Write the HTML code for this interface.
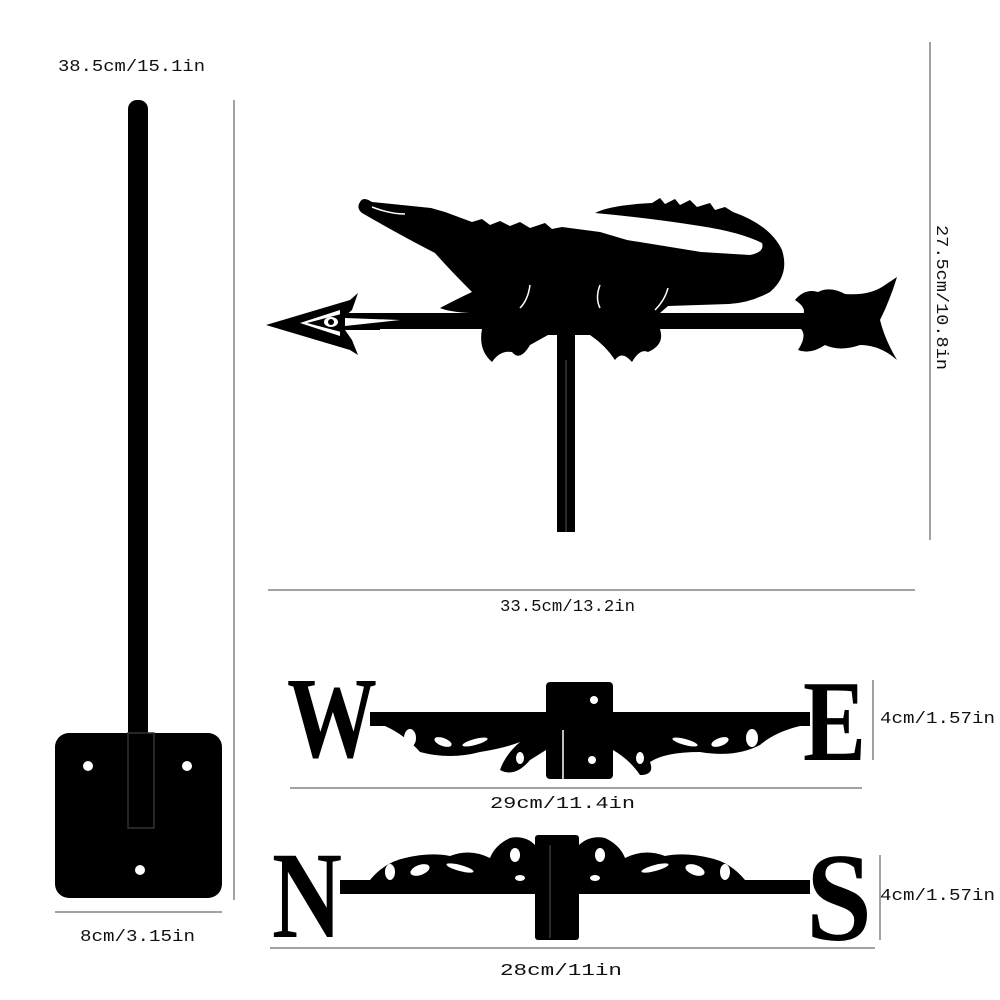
<!DOCTYPE html>
<html><head><meta charset="utf-8"><style>
html,body{margin:0;padding:0;background:#fff;}
svg{display:block;}
text{font-family:"Liberation Mono","DejaVu Sans Mono",monospace;font-size:17px;fill:#111;}
.L{font-family:"Liberation Serif",serif;font-weight:bold;fill:#000;}
</style></head><body>
<svg width="1000" height="1000" viewBox="0 0 1000 1000" xmlns="http://www.w3.org/2000/svg">
<!-- pole stand -->
<text x="58" y="71" textLength="147" lengthAdjust="spacingAndGlyphs">38.5cm/15.1in</text>
<rect x="128" y="100" width="20" height="730" rx="9" fill="#000"/>
<rect x="55" y="733" width="167" height="165" rx="14" fill="#000"/>
<rect x="128" y="733" width="26" height="95" fill="none" stroke="#333" stroke-width="1.5"/>
<circle cx="88" cy="766" r="5" fill="#fff"/>
<circle cx="187" cy="766" r="5" fill="#fff"/>
<circle cx="140" cy="870" r="5" fill="#fff"/>
<line x1="234" y1="100" x2="234" y2="900" stroke="#444" stroke-width="1"/>
<line x1="55" y1="912" x2="222" y2="912" stroke="#444" stroke-width="1"/>
<text x="80" y="941" textLength="115" lengthAdjust="spacingAndGlyphs">8cm/3.15in</text>

<!-- crocodile vane -->
<line x1="930" y1="42" x2="930" y2="540" stroke="#444" stroke-width="1"/>
<text x="0" y="0" transform="translate(937,225) rotate(90)" textLength="145" lengthAdjust="spacingAndGlyphs">27.5cm/10.8in</text>
<rect x="557" y="330" width="18" height="202" fill="#000"/>
<line x1="566" y1="360" x2="566" y2="532" stroke="#555" stroke-width="1"/>
<rect x="330" y="313" width="480" height="16" fill="#000"/>
<path d="M266 325 L350 300 L358 293 L352 310 L345 316 L380 316 L380 330 L345 330 L352 340 L358 355 L350 350 Z" fill="#000"/>
<path d="M300 323 L340 310 L340 336 Z" fill="#fff"/>
<path d="M307 323 L345 313 L345 333 Z" fill="#000"/>
<ellipse cx="331" cy="322" rx="7" ry="5" fill="#fff"/>
<circle cx="331" cy="322" r="3" fill="#000"/>
<path d="M345 318 L400 320 L345 326 Z" fill="#fff"/>
<path d="M795 300 Q805 288 818 292 Q830 286 845 294 Q870 296 885 285 L897 277 Q890 300 880 320 Q885 340 897 360 Q880 345 860 345 Q840 352 825 345 Q810 355 798 350 Q808 335 800 328 L800 318 Q810 310 795 300 Z" fill="#000"/>
<path d="M360 202 Q363 196 372 202 L431 208 L445 212 L472 222 L482 219 L490 225 L500 221 L510 226 L520 222 L530 228 L545 223 L552 229 L562 227 L600 232 L627 240 L701 252 L750 255 Q765 252 762 243 Q740 232 700 226 Q650 218 595 213 Q610 205 652 203 L660 198 L665 204 L675 199 L680 205 L690 200 L697 207 L710 203 L715 210 L725 207 L733 212 Q770 225 782 250 Q790 275 770 292 Q750 303 729 304 L668 306 L660 313 L470 313 Q450 312 440 308 Q455 300 472 292 Q450 270 435 253 Q400 235 362 213 Q356 208 360 202 Z" fill="#000"/>
<path d="M372 207 Q390 214 405 214" stroke="#fff" stroke-width="1.5" fill="none"/>
<path d="M520 308 Q528 300 530 285" stroke="#fff" stroke-width="1.5" fill="none"/>
<path d="M600 308 Q595 298 600 285" stroke="#fff" stroke-width="1.5" fill="none"/>
<path d="M655 310 Q665 300 668 288" stroke="#fff" stroke-width="1.5" fill="none"/>
<path d="M482 329 Q478 350 492 362 Q500 350 512 352 Q520 362 530 345 L548 335 L590 335 Q605 345 615 360 Q622 350 632 362 Q640 348 648 352 Q665 345 660 329 Z" fill="#000"/>
<line x1="268" y1="590" x2="915" y2="590" stroke="#444" stroke-width="1"/>
<text x="500" y="611" textLength="135" lengthAdjust="spacingAndGlyphs">33.5cm/13.2in</text>

<!-- W E -->
<text class="L" x="287" y="757" style="font-size:116px" textLength="90" lengthAdjust="spacingAndGlyphs">W</text>
<text class="L" x="803" y="760" style="font-size:116px" textLength="63" lengthAdjust="spacingAndGlyphs">E</text>
<rect x="370" y="712" width="440" height="14" fill="#000"/>
<path d="M385 726 Q405 735 420 752 Q450 760 480 752 Q505 748 520 742 Q505 755 500 770 Q515 778 530 760 L546 750 L546 726 Z" fill="#000"/>
<path d="M613 726 L613 750 Q630 760 640 775 Q655 775 650 762 Q665 752 700 752 Q735 758 760 745 Q775 732 800 726 Z" fill="#000"/>
<g fill="#fff">
<ellipse cx="410" cy="738" rx="6" ry="9"/>
<ellipse cx="443" cy="742" rx="9" ry="4" transform="rotate(20 443 742)"/>
<ellipse cx="475" cy="742" rx="13" ry="3" transform="rotate(-15 475 742)"/>
<ellipse cx="520" cy="758" rx="4" ry="6"/>
<ellipse cx="640" cy="758" rx="4" ry="6"/>
<ellipse cx="685" cy="742" rx="13" ry="3" transform="rotate(15 685 742)"/>
<ellipse cx="720" cy="742" rx="9" ry="4" transform="rotate(-20 720 742)"/>
<ellipse cx="752" cy="738" rx="6" ry="9"/>
</g>
<rect x="546" y="682" width="67" height="97" rx="4" fill="#000"/>
<circle cx="594" cy="700" r="4" fill="#fff"/>
<circle cx="592" cy="760" r="4" fill="#fff"/>
<line x1="563" y1="730" x2="563" y2="779" stroke="#fff" stroke-width="1.5"/>
<line x1="873" y1="680" x2="873" y2="760" stroke="#444" stroke-width="1"/>
<text x="880" y="723" textLength="115" lengthAdjust="spacingAndGlyphs">4cm/1.57in</text>
<line x1="290" y1="788" x2="862" y2="788" stroke="#444" stroke-width="1"/>
<text x="490" y="808" textLength="145" lengthAdjust="spacingAndGlyphs">29cm/11.4in</text>

<!-- N S -->
<text class="L" x="272" y="937" style="font-size:124px" textLength="70" lengthAdjust="spacingAndGlyphs">N</text>
<text class="L" x="806" y="940" style="font-size:126px" textLength="66" lengthAdjust="spacingAndGlyphs">S</text>
<rect x="340" y="880" width="470" height="14" fill="#000"/>
<path d="M370 880 Q385 862 405 858 Q430 852 450 856 Q470 848 490 858 Q495 845 510 838 Q525 835 535 845 L535 880 Z" fill="#000"/>
<path d="M579 880 L579 845 Q590 835 605 838 Q620 845 625 858 Q645 848 665 856 Q685 852 710 858 Q730 862 745 880 Z" fill="#000"/>
<g fill="#fff">
<ellipse cx="390" cy="872" rx="5" ry="8"/>
<ellipse cx="420" cy="870" rx="10" ry="5" transform="rotate(-20 420 870)"/>
<ellipse cx="460" cy="868" rx="14" ry="3" transform="rotate(15 460 868)"/>
<ellipse cx="515" cy="855" rx="5" ry="7"/>
<ellipse cx="520" cy="878" rx="5" ry="3"/>
<ellipse cx="600" cy="855" rx="5" ry="7"/>
<ellipse cx="595" cy="878" rx="5" ry="3"/>
<ellipse cx="655" cy="868" rx="14" ry="3" transform="rotate(-15 655 868)"/>
<ellipse cx="695" cy="870" rx="10" ry="5" transform="rotate(20 695 870)"/>
<ellipse cx="725" cy="872" rx="5" ry="8"/>
</g>
<rect x="535" y="835" width="44" height="105" rx="3" fill="#000"/>
<line x1="550" y1="845" x2="550" y2="938" stroke="#555" stroke-width="1"/>
<line x1="880" y1="855" x2="880" y2="940" stroke="#444" stroke-width="1"/>
<text x="880" y="900" textLength="115" lengthAdjust="spacingAndGlyphs">4cm/1.57in</text>
<line x1="270" y1="948" x2="875" y2="948" stroke="#444" stroke-width="1"/>
<text x="500" y="975" textLength="122" lengthAdjust="spacingAndGlyphs">28cm/11in</text>
</svg>
</body></html>
